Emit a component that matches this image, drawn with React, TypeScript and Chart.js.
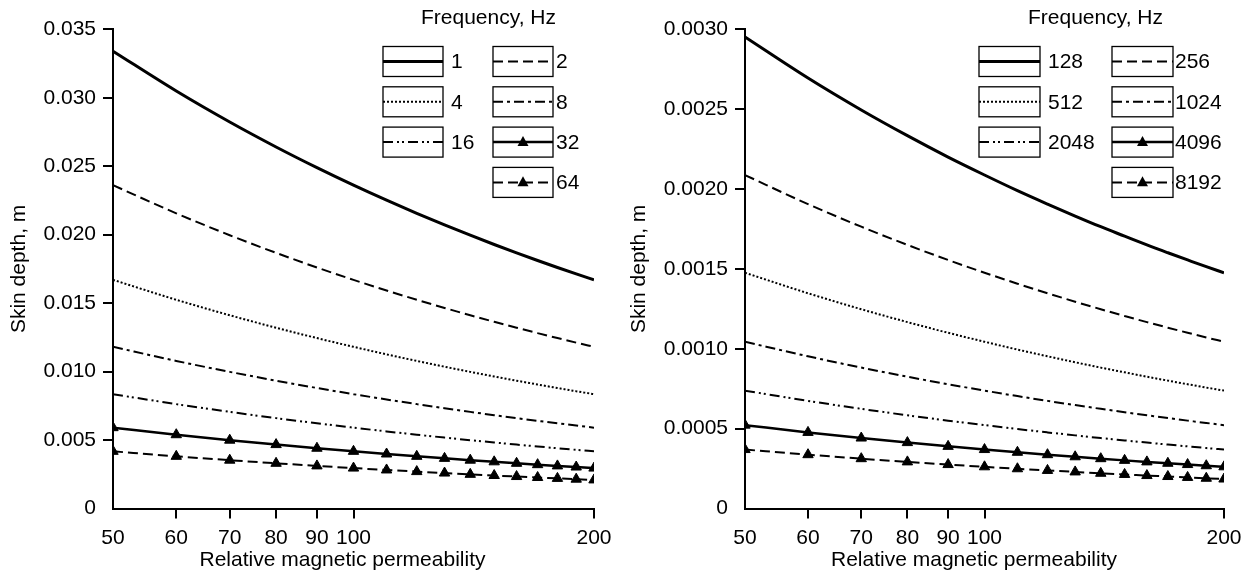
import React, { useEffect, useRef } from "react";
import { Chart, registerables } from "chart.js";

Chart.register(...registerables);

// ---------- data ----------
const MU = [50, 60, 70, 80, 90, 100, 110, 120, 130, 140, 150, 160, 170, 180, 190, 200];
const X_TICKS = [50, 60, 70, 80, 90, 100, 200];

const LEFT_FREQS = ["1", "2", "4", "8", "16", "32", "64"];
const F1 = [0.0334, 0.03049, 0.028228, 0.026405, 0.024895, 0.023617, 0.022518, 0.02156, 0.020714, 0.01996, 0.019283, 0.018671, 0.018114, 0.017603, 0.017134, 0.0167];
const F2 = [0.023617, 0.02156, 0.01996, 0.018671, 0.017603, 0.0167, 0.015923, 0.015245, 0.014647, 0.014114, 0.013636, 0.013203, 0.012808, 0.012447, 0.012115, 0.011809];
const F4 = [0.0167, 0.015245, 0.014114, 0.013203, 0.012447, 0.011809, 0.011259, 0.01078, 0.010357, 0.00998, 0.009642, 0.009336, 0.009057, 0.008802, 0.008567, 0.00835];
const F8 = [0.011809, 0.01078, 0.00998, 0.009336, 0.008802, 0.00835, 0.007962, 0.007623, 0.007324, 0.007057, 0.006818, 0.006602, 0.006404, 0.006224, 0.006058, 0.005905];
const F16 = [0.00835, 0.007623, 0.007057, 0.006601, 0.006224, 0.005904, 0.00563, 0.00539, 0.005179, 0.00499, 0.004821, 0.004668, 0.004529, 0.004401, 0.004284, 0.004175];
const F32 = [0.005904, 0.00539, 0.00499, 0.004668, 0.004401, 0.004175, 0.003981, 0.003811, 0.003662, 0.003529, 0.003409, 0.003301, 0.003202, 0.003112, 0.003029, 0.002952];
const F64 = [0.004175, 0.003811, 0.003529, 0.003301, 0.003112, 0.002952, 0.002815, 0.002695, 0.002589, 0.002495, 0.00241, 0.002334, 0.002264, 0.0022, 0.002142, 0.002088];

const RIGHT_FREQS = ["128", "256", "512", "1024", "2048", "4096", "8192"];
const F128 = [0.002952, 0.002695, 0.002495, 0.002334, 0.0022, 0.002088, 0.00199, 0.001906, 0.001831, 0.001764, 0.001705, 0.00165, 0.001601, 0.001556, 0.001514, 0.001476];
const F256 = [0.0020875, 0.0019056, 0.0017643, 0.0016503, 0.0015559, 0.0014761, 0.0014074, 0.0013475, 0.0012946, 0.0012475, 0.0012052, 0.0011669, 0.0011321, 0.0011002, 0.0010709, 0.0010438];
const F512 = [0.001476, 0.0013475, 0.0012475, 0.001167, 0.0011, 0.001044, 0.000995, 0.000953, 0.0009155, 0.000882, 0.0008525, 0.000825, 0.0008005, 0.000778, 0.000757, 0.000738];
const F1024 = [0.0010438, 0.0009528, 0.0008822, 0.0008252, 0.000778, 0.000738, 0.0007037, 0.0006738, 0.0006473, 0.0006238, 0.0006026, 0.0005835, 0.0005661, 0.0005501, 0.0005355, 0.0005219];
const F2048 = [0.000738, 0.0006738, 0.0006238, 0.0005835, 0.00055, 0.000522, 0.0004975, 0.0004765, 0.0004578, 0.000441, 0.0004263, 0.0004125, 0.0004003, 0.000389, 0.0003785, 0.000369];
const F4096 = [0.0005219, 0.0004764, 0.0004411, 0.0004126, 0.000389, 0.000369, 0.0003519, 0.0003369, 0.0003237, 0.0003119, 0.0003013, 0.0002918, 0.0002831, 0.0002751, 0.0002678, 0.000261];
const F8192 = [0.000369, 0.0003369, 0.0003119, 0.0002918, 0.000275, 0.000261, 0.0002488, 0.0002383, 0.0002289, 0.0002205, 0.0002132, 0.0002063, 0.0002002, 0.0001945, 0.0001893, 0.0001845];

const LEFT_SERIES = [F1, F2, F4, F8, F16, F32, F64];
const RIGHT_SERIES = [F128, F256, F512, F1024, F2048, F4096, F8192];

const X_TITLE = "Relative magnetic permeability";
const Y_TITLE = "Skin depth, m";
const LEGEND_TITLE = "Frequency, Hz";

// ---------- styles ----------
const FONT_FAMILY = '"Liberation Sans", Arial, Helvetica, sans-serif';
const FONT_SIZE = 21;
const LINE_STYLES = [
  { width: 3, dash: [] as number[], marker: false },
  { width: 2, dash: [10, 5], marker: false },
  { width: 2, dash: [2, 2], marker: false },
  { width: 2, dash: [10, 4, 3, 4], marker: false },
  { width: 2, dash: [10, 4, 2, 3, 2, 4], marker: false },
  { width: 2.5, dash: [] as number[], marker: true },
  { width: 2, dash: [10, 5], marker: true },
];
const LEGEND_SLOTS = [[0, 0], [0, 1], [1, 0], [1, 1], [2, 0], [2, 1], [3, 1]];

const boxLegendPlugin = {
  id: "boxLegend",
  afterDraw(chart: any, _args: any, opts: any) {
    const ctx = chart.ctx as CanvasRenderingContext2D;
    ctx.save();
    ctx.font = `${FONT_SIZE}px ${FONT_FAMILY}`;
    ctx.fillStyle = "#000";
    ctx.textAlign = "center";
    ctx.textBaseline = "alphabetic";
    ctx.fillText(LEGEND_TITLE, opts.titleX, opts.titleY);
    // x axis title
    ctx.fillText(X_TITLE, opts.xTitleX, opts.xTitleY);
    chart.data.datasets.forEach((ds: any, i: number) => {
      const [r, c] = LEGEND_SLOTS[i];
      const bx = opts.colX[c];
      const by = opts.rowY0 + r * opts.rowStep;
      const bw = opts.boxW;
      const bh = opts.boxH;
      const st = LINE_STYLES[i];
      ctx.fillStyle = "#fff";
      ctx.fillRect(bx, by, bw, bh);
      ctx.setLineDash([]);
      ctx.lineWidth = 1.3;
      ctx.strokeStyle = "#000";
      ctx.strokeRect(bx, by, bw, bh);
      const cy = by + bh / 2;
      ctx.lineWidth = st.width;
      ctx.setLineDash(st.dash);
      ctx.beginPath();
      ctx.moveTo(bx, cy);
      ctx.lineTo(bx + bw, cy);
      ctx.stroke();
      ctx.setLineDash([]);
      if (st.marker) {
        const cx = bx + bw / 2;
        const s = 5.5;
        ctx.fillStyle = "#000";
        ctx.beginPath();
        ctx.moveTo(cx, cy - s * 1.1);
        ctx.lineTo(cx + s, cy + s * 0.7);
        ctx.lineTo(cx - s, cy + s * 0.7);
        ctx.closePath();
        ctx.fill();
      }
      ctx.fillStyle = "#000";
      ctx.textAlign = "left";
      ctx.textBaseline = "middle";
      ctx.fillText(ds.label, bx + bw + opts.labelGap[c], cy + 1);
    });
    ctx.restore();
  },
};

type PanelProps = {
  left: number;
  width: number;
  freqs: string[];
  series: number[][];
  yMax: number;
  yStep: number;
  decimals: number;
  yAxisWidth: number;
  padRight: number;
  legend: any;
};

function Panel(props: PanelProps) {
  const ref = useRef<HTMLCanvasElement | null>(null);
  useEffect(() => {
    if (!ref.current) return;
    const datasets = props.series.map((vals, i) => {
      const st = LINE_STYLES[i];
      return {
        label: props.freqs[i],
        data: MU.map((m, k) => ({ x: m, y: vals[k] })),
        borderColor: "#000",
        backgroundColor: "#000",
        borderWidth: st.width,
        borderDash: st.dash,
        pointStyle: "triangle",
        pointRadius: st.marker ? 6 : 0,
        pointBorderWidth: 1,
        pointHoverRadius: st.marker ? 6 : 0,
        cubicInterpolationMode: "monotone",
        fill: false,
      };
    });
    const tickColor = (c: any) => (c.index === 0 ? "rgba(0,0,0,0)" : "#000");
    const chart = new Chart(ref.current, {
      type: "line",
      data: { datasets } as any,
      plugins: [boxLegendPlugin as any],
      options: {
        responsive: false,
        animation: false,
        events: [],
        layout: { padding: { left: 0, top: 29.3, right: props.padRight, bottom: 0 } },
        font: { family: FONT_FAMILY, size: FONT_SIZE },
        plugins: {
          legend: { display: false },
          tooltip: { enabled: false },
          boxLegend: props.legend,
        } as any,
        scales: {
          x: {
            type: "logarithmic",
            min: 50,
            max: 200,
            afterBuildTicks: (scale: any) => {
              scale.ticks = X_TICKS.map((v) => ({ value: v }));
            },
            afterFit: (scale: any) => {
              scale.height = 68.5;
            },
            grid: {
              drawOnChartArea: false,
              drawTicks: true,
              tickLength: 10,
              lineWidth: 2,
              color: tickColor,
            },
            border: { display: true, color: "#000", width: 2 },
            ticks: {
              color: "#000",
              font: { family: FONT_FAMILY, size: FONT_SIZE },
              padding: 7,
              autoSkip: false,
              maxRotation: 0,
              callback: (v: any) => String(v),
            },
            title: { display: false, text: X_TITLE },
          },
          y: {
            type: "linear",
            min: 0,
            max: props.yMax,
            afterFit: (scale: any) => {
              scale.width = props.yAxisWidth;
            },
            grid: {
              drawOnChartArea: false,
              drawTicks: true,
              tickLength: 10,
              lineWidth: 2,
              color: tickColor,
            },
            border: { display: true, color: "#000", width: 2 },
            ticks: {
              color: "#000",
              stepSize: props.yStep,
              font: { family: FONT_FAMILY, size: FONT_SIZE },
              padding: 7,
              callback: (v: any) => (Math.abs(Number(v)) < 1e-12 ? "0" : Number(v).toFixed(props.decimals)),
            },
            title: {
              display: true,
              text: Y_TITLE,
              color: "#000",
              font: { family: FONT_FAMILY, size: FONT_SIZE },
              padding: { top: 7, bottom: 0 },
            },
          },
        },
      } as any,
    });
    return () => chart.destroy();
  }, []);
  return (
    <div style={{ position: "absolute", left: props.left, top: 0, width: props.width, height: 577 }}>
      <canvas ref={ref} width={props.width} height={577} style={{ display: "block" }} />
    </div>
  );
}

export default function App() {
  return (
    <div style={{ position: "fixed", left: 0, top: 0, width: 1255, height: 577, background: "#fff", overflow: "hidden" }}>
      <Panel
        left={0}
        width={620}
        freqs={LEFT_FREQS}
        series={LEFT_SERIES}
        yMax={0.035}
        yStep={0.005}
        decimals={3}
        yAxisWidth={113}
        padRight={26}
        legend={{
          titleX: 488.5,
          titleY: 24,
          xTitleX: 342.5,
          xTitleY: 566,
          colX: [383, 493],
          rowY0: 46.5,
          rowStep: 40.3,
          boxW: 60,
          boxH: 30,
          labelGap: [8, 3],
        }}
      />
      <Panel
        left={620}
        width={635}
        freqs={RIGHT_FREQS}
        series={RIGHT_SERIES}
        yMax={0.003}
        yStep={0.0005}
        decimals={4}
        yAxisWidth={125}
        padRight={31}
        legend={{
          titleX: 475.5,
          titleY: 24,
          xTitleX: 354,
          xTitleY: 566,
          colX: [359, 492],
          rowY0: 46.5,
          rowStep: 40.3,
          boxW: 61,
          boxH: 30,
          labelGap: [8, 2],
        }}
      />
    </div>
  );
}
